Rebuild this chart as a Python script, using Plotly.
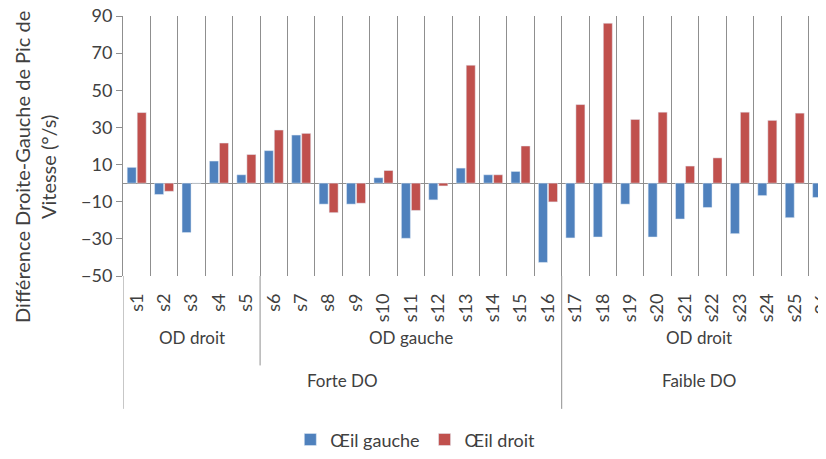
import plotly.graph_objects as go

# sujets (niveau 1 de l'axe)
sujets = ["s1", "s2", "s3", "s4", "s5", "s6", "s7", "s8", "s9", "s10", "s11", "s12", "s13",
          "s14", "s15", "s16", "s17", "s18", "s19", "s20", "s21", "s22", "s23", "s24", "s25", "s26"]

# groupes (niveaux 2 et 3 de l'axe)
od_groupes = ["OD droit", "OD gauche", "OD droit"]
od_tailles = [5, 11, 10]
do_groupes = ["Forte DO", "Faible DO"]
do_tailles = [16, 10]

# différence droite-gauche (°/s)
oeil_gauche = [8.5, -6.1, -26.6, 11.9, 4.5, 17.5, 25.9, -11.3, -11.3, 2.9, -29.7, -9.0, 8.1,
               4.5, 6.3, -42.7, -29.5, -29.0, -11.3, -29.0, -19.3, -13.1, -27.2, -6.7, -18.6, -7.7]
oeil_droit = [38.0, -4.4, 0, 21.6, 15.4, 28.6, 26.8, -15.9, -10.8, 6.8, -14.7, -1.5, 63.5,
              4.5, 20.0, -10.1, 42.3, 86.1, 34.3, 38.2, 9.2, 13.6, 38.2, 33.8, 37.7, 20.0]

bleu = "#4F81BD"
rouge = "#C0504D"
gris = "#8f8f8f"
texte = "#404040"
police = "Lato, Open Sans, sans-serif"

fig = go.Figure()
fig.add_trace(go.Bar(x=sujets, y=oeil_gauche, name="Œil gauche", marker_color=bleu))
fig.add_trace(go.Bar(x=sujets, y=oeil_droit, name="Œil droit", marker_color=rouge))

shapes = []
annotations = []

# prolongement de l'axe vertical
shapes.append(dict(type="line", xref="x", yref="paper", x0=-0.5, x1=-0.5, y0=0, y1=-0.511,
                   line=dict(color=gris, width=1)))

fins_do = [sum(do_tailles[:k + 1]) for k in range(len(do_tailles))]

# niveau OD
debut = 0
for nom, n in zip(od_groupes, od_tailles):
    fin = debut + n
    annotations.append(dict(text=nom, xref="x", yref="paper", x=(debut + fin) / 2 - 0.5, y=-0.286,
                            showarrow=False, font=dict(size=17, color=texte)))
    if fin < len(sujets) and fin not in fins_do:
        shapes.append(dict(type="line", xref="x", yref="paper", x0=fin - 0.5, x1=fin - 0.5,
                           y0=0, y1=-0.344, line=dict(color=gris, width=1)))
    debut = fin

# niveau DO
debut = 0
for nom, n in zip(do_groupes, do_tailles):
    fin = debut + n
    annotations.append(dict(text=nom, xref="x", yref="paper", x=(debut + fin) / 2 - 0.5, y=-0.45,
                            showarrow=False, font=dict(size=17, color=texte)))
    if fin < len(sujets):
        shapes.append(dict(type="line", xref="x", yref="paper", x0=fin - 0.5, x1=fin - 0.5,
                           y0=0, y1=-0.511, line=dict(color=gris, width=1)))
    debut = fin

# titre de l'axe vertical
annotations.append(dict(text="Différence Droite-Gauche de Pic de<br>Vitesse (°/s)",
                        xref="paper", yref="paper", x=-0.125, y=0.42, textangle=-90,
                        xanchor="center", yanchor="middle", showarrow=False,
                        font=dict(size=20, color=texte)))

# la page ajoute 8 px de marge autour de la figure
fig.update_layout(
    width=818, height=451,
    margin=dict(l=115, r=0, t=8, b=181),
    paper_bgcolor="white", plot_bgcolor="white",
    font=dict(family=police, color=texte, size=18),
    barmode="group", bargap=0.27, bargroupgap=0.1,
    shapes=shapes, annotations=annotations,
    legend=dict(orientation="h", x=0.238, xanchor="left", y=-0.63, yanchor="middle",
                font=dict(size=18, color=texte)),
    xaxis=dict(type="category", range=[-0.5, 25.14], tickson="boundaries",
               showgrid=True, gridcolor=gris, gridwidth=1, ticks="", tickangle=-90,
               ticklabelstandoff=13, ticklabeloverflow="allow", showline=False,
               zeroline=False, automargin=False, tickfont=dict(size=18, color=texte)),
    yaxis=dict(range=[-50, 90], tick0=-50, dtick=20, showgrid=False, zeroline=True,
               zerolinecolor=gris, zerolinewidth=1, showline=True, linecolor=gris,
               ticks="outside", ticklen=6, tickcolor=gris, automargin=False,
               ticklabeloverflow="allow", tickfont=dict(size=18, color=texte)),
)

fig.write_html("out.html")
